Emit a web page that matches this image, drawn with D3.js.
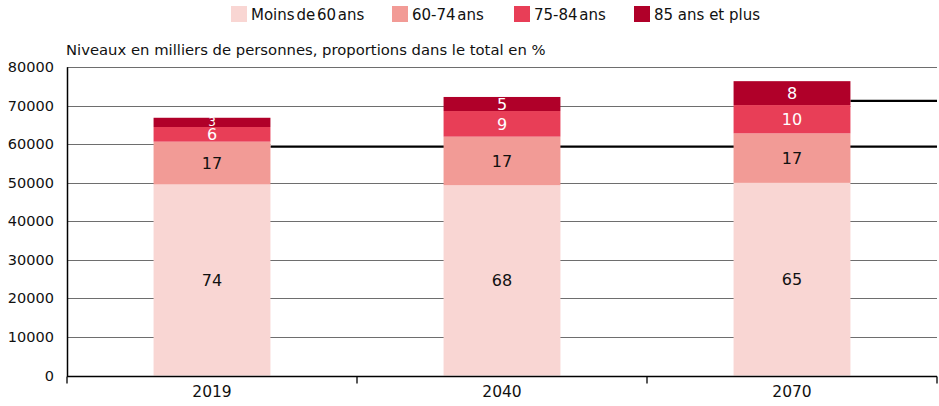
<!DOCTYPE html>
<html>
<head>
<meta charset="utf-8">
<script src="https://cdn.jsdelivr.net/npm/d3@7"></script>
<style>
  body { margin: 0; background: #fff; }
  text { font-family: "DejaVu Sans", Verdana, sans-serif; fill: #111; }
</style>
</head>
<body>
<div class="container"></div>
<script>
// data
var years = ['2019', '2040', '2070'];
var groups = ['Moins de 60 ans', '60-74 ans', '75-84 ans', '85 ans et plus'];
var moins60 = [49600, 49400, 50000];
var de60a74 = [11100, 12600, 12850];
var de75a84 = [3800, 6650, 7350];
var plus85 = [2400, 3650, 6200];
var shares = [[74, 17, 6, 3], [68, 17, 9, 5], [65, 17, 10, 8]];
var yTicks = [0, 10000, 20000, 30000, 40000, 50000, 60000, 70000, 80000];
var colors = ['#f9d6d3', '#f29b96', '#e83e57', '#b00029'];
var labelColors = ['#111', '#111', '#fff', '#fff'];

var width = 939, height = 406;
var margin = {top: 67, right: 2, bottom: 31, left: 67};

var svg = d3.select('.container')
            .append('svg')
                .attr('width', width)
                .attr('height', height);

var x = d3.scaleBand()
          .domain(years)
          .range([margin.left, width - margin.right])
          .paddingInner(0.597)
          .paddingOuter(0.2985);

var y = d3.scaleLinear()
          .domain([0, 80000])
          .range([height - margin.bottom + 0.5, margin.top + 0.3]);

var rows = years.map(function(yr, i) {
    return {year: yr, a: moins60[i], b: de60a74[i], c: de75a84[i], d: plus85[i], idx: i};
});
var stack = d3.stack().keys(['a', 'b', 'c', 'd']);
var series = stack(rows);
var bw = x.bandwidth();

// gridlines
svg.append('g')
    .selectAll('line')
    .data(yTicks)
    .join('line')
        .attr('x1', margin.left)
        .attr('x2', width - margin.right)
        .attr('y1', function(d) { return Math.round(y(d)) + 0.5; })
        .attr('y2', function(d) { return Math.round(y(d)) + 0.5; })
        .style('stroke', '#6e6e6e')
        .style('stroke-width', 1);

// heavy lines seen behind the bars (they hide the gridline there)
var heavy = [{from: '2019', at: 59400, grid: 60000}, {from: '2070', at: 71300, grid: 70000}];
heavy.forEach(function(h) {
    svg.append('line')
        .attr('x1', x(h.from) + bw).attr('x2', width - margin.right)
        .attr('y1', Math.round(y(h.grid)) + 0.5).attr('y2', Math.round(y(h.grid)) + 0.5)
        .style('stroke', '#fff').style('stroke-width', 2);
    svg.append('line')
        .attr('x1', x(h.from) + bw).attr('x2', width - margin.right)
        .attr('y1', y(h.at)).attr('y2', y(h.at))
        .style('stroke', '#000').style('stroke-width', 2.2);
});

// bars
var layers = svg.append('g')
    .selectAll('g')
    .data(series)
    .join('g')
        .style('fill', function(d, i) { return colors[i]; });

layers.selectAll('rect')
    .data(function(d) { return d; })
    .join('rect')
        .attr('x', function(d) { return x(d.data.year); })
        .attr('y', function(d) { return y(d[1]); })
        .attr('width', bw)
        .attr('height', function(d) { return y(d[0]) - y(d[1]); });

// share labels
series.forEach(function(s, k) {
    svg.append('g')
        .selectAll('text')
        .data(s)
        .join('text')
            .attr('x', function(d) { return x(d.data.year) + bw / 2; })
            .attr('y', function(d) {
                var h = y(d[0]) - y(d[1]);
                return (y(d[0]) + y(d[1])) / 2 + (h < 12 ? 3.5 : 6);
            })
            .attr('text-anchor', 'middle')
            .style('font-size', function(d) { return (y(d[0]) - y(d[1])) < 12 ? '12px' : '16px'; })
            .style('fill', labelColors[k])
            .text(function(d) { return shares[d.data.idx][k]; });
});

// y axis
svg.append('line')
    .attr('x1', margin.left + 0.5).attr('x2', margin.left + 0.5)
    .attr('y1', y(80000)).attr('y2', y(0) + 1)
    .style('stroke', '#000').style('stroke-width', 1.5);

svg.append('g')
    .selectAll('text')
    .data(yTicks)
    .join('text')
        .attr('x', 54)
        .attr('y', function(d) { return y(d) + 5; })
        .attr('text-anchor', 'end')
        .style('font-size', '14.5px')
        .text(function(d) { return d; });

// x axis
var xAxisY = y(0) + 1;
svg.append('line')
    .attr('x1', margin.left).attr('x2', width - margin.right)
    .attr('y1', xAxisY).attr('y2', xAxisY)
    .style('stroke', '#000').style('stroke-width', 1.5);

var bounds = [margin.left].concat(years.map(function(yr) {
    return x(yr) + bw / 2 + x.step() / 2;
}));
svg.append('g')
    .selectAll('line')
    .data(bounds)
    .join('line')
        .attr('x1', function(d) { return d; })
        .attr('x2', function(d) { return d; })
        .attr('y1', xAxisY)
        .attr('y2', xAxisY + 7)
        .style('stroke', '#000')
        .style('stroke-width', 1.3);

svg.append('g')
    .selectAll('text')
    .data(years)
    .join('text')
        .attr('x', function(d) { return x(d) + bw / 2; })
        .attr('y', 397)
        .attr('text-anchor', 'middle')
        .style('font-size', '15.5px')
        .text(function(d) { return d; });

// subtitle
svg.append('text')
    .attr('x', 66)
    .attr('y', 55)
    .style('font-size', '14.8px')
    .text('Niveaux en milliers de personnes, proportions dans le total en %');

// legend
var legendX = [231, 392, 514, 634];
var legendSpacing = ['-3px', '-3px', '-3px', '0px'];
var legend = svg.append('g')
    .selectAll('g')
    .data(groups)
    .join('g')
        .attr('transform', function(d, i) { return 'translate(' + legendX[i] + ',6)'; });

legend.append('rect')
    .attr('width', 16)
    .attr('height', 16)
    .style('fill', function(d, i) { return colors[i]; });

legend.append('text')
    .attr('x', 20)
    .attr('y', 14)
    .style('font-size', '15px')
    .style('word-spacing', function(d, i) { return legendSpacing[i]; })
    .text(function(d) { return d; });
</script>
</body>
</html>
